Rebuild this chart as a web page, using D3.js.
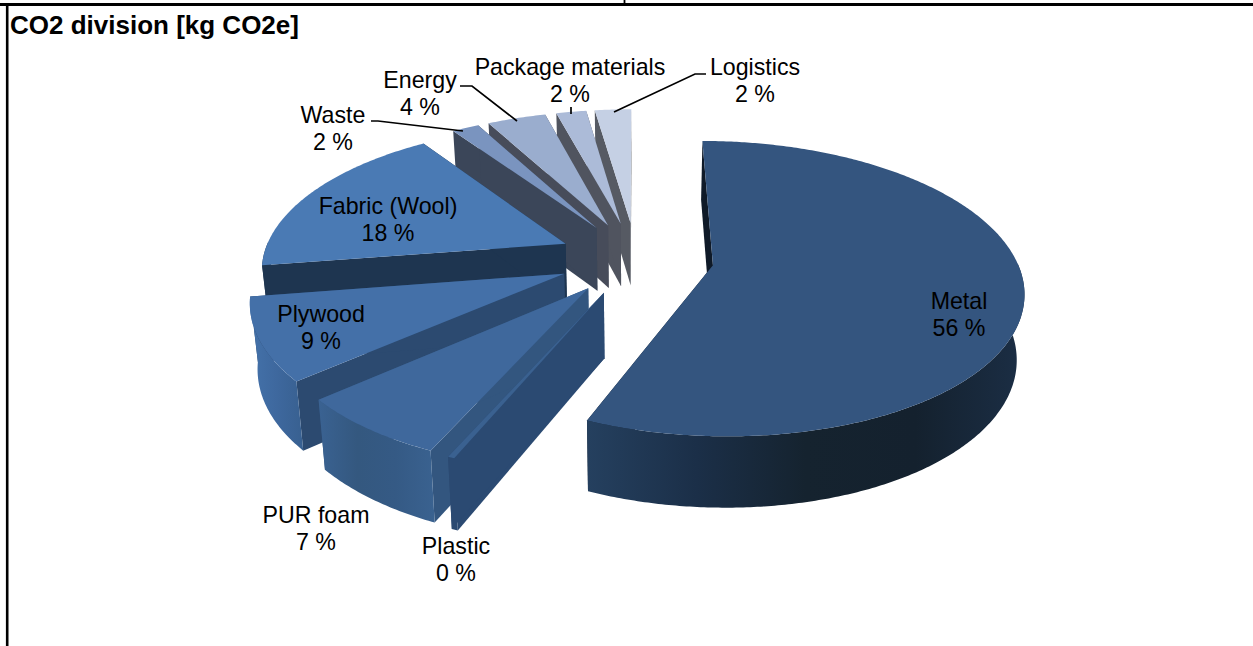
<!DOCTYPE html>
<html>
<head>
<meta charset="utf-8">
<script src="https://d3js.org/d3.v7.min.js"></script>
<style>
html,body{margin:0;padding:0;background:#fff;overflow:hidden}
svg{display:block}
text{font-family:"Liberation Sans",Arial,sans-serif;fill:#000}
</style>
</head>
<body>
<svg id="c" width="1253" height="646"></svg>
<script>
// ---- data ----
const title = "CO2 division [kg CO2e]";
const categories = ["Metal","Plastic","PUR foam","Plywood","Fabric (Wool)","Waste","Energy","Package materials","Logistics"];
const values = [56.3,0.3,6.9,9,17.8,1.7,3.7,1.9,2.3];
const percentLabels = ["56 %","0 %","7 %","9 %","18 %","2 %","4 %","2 %","2 %"];

// ---- style ----
const topColors  = ["#34557f","#3a6190","#3f689c","#4470a8","#4a7ab4","#7a94bf","#9aadce","#acbbd8","#c5d0e4"];
const sideColors = ["#0f1a28","#2b4a72","#33567f","#2c4a70","#1e3550","#3b4659","#474c5a","#50545f","#565a63"];
const wallStops  = [
  ["#25405f","#1b2f48","#15232f","#14212e","#1b2e45"],
  ["#2b4a72","#2b4a72"],
  ["#3a6292","#34587f","#355a85","#3a6290"],
  ["#4472aa","#3e689e","#386090"],
  ["#1e3550","#1e3550"],
  ["#3b4659","#3b4659"],["#474c5a","#474c5a"],["#50545f","#50545f"],["#565a63","#565a63"]
];
const labelLayout = [
  [959,301],[456,546],[316,515],[321,314],[388,206],[333,115],[420,80],[570,67],[755,67]
];
const leaderLines = [
  [[371,121],[378,121],[463,131]],
  [[460,86],[472,86],[517,121]],
  [[571,107],[571,114]],
  [[706,74],[695,74],[614,112]]
];

// ---- projection ----
const W = {cx:636, cy:258, R:303, ky:141.7, persp:0.157, h:64, depthPow:0.6, taper:0.02, explode:0.257};
const sxScale = d3.scaleLinear().domain([0,1]).range([0,W.R]);
const syScale = d3.scaleLinear().domain([0,1]).range([0,W.ky]);
function project(wx,wy,z){
  const s = 1/(1-W.persp*wy);
  return [W.cx + sxScale(wx)*s*(1-W.taper*z), W.cy + syScale(wy)*s + W.h*z*Math.pow(s,W.depthPow)];
}

const svg = d3.select("#c");
const defs = svg.append("defs");
const line = d3.line();
const pie = d3.pie().sort(null).value(d=>d);
const arcs = pie(values);

// back-to-front order
const drawOrder = [8,7,6,5,4,3,2,1,0];

function slicePoint(d,a,r){
  const m=(d.startAngle+d.endAngle)/2;
  return [W.explode*Math.sin(m)+r*Math.sin(a), -W.explode*Math.cos(m)-r*Math.cos(a)];
}
const g = svg.append("g");
drawOrder.forEach(i=>{
  const d=arcs[i];
  const n=Math.max(2,Math.ceil((d.endAngle-d.startAngle)/0.01));
  const angles=d3.range(n+1).map(k=>d.startAngle+(d.endAngle-d.startAngle)*k/n);
  const P=(a,r,z)=>{const q=slicePoint(d,a,r);return project(q[0],q[1],z);};
  const sg=g.append("g").attr("class","slice");
  // radial walls
  [d.startAngle,d.endAngle].forEach(a=>{
    sg.append("path")
      .attr("d",line([P(a,0,0),P(a,1,0),P(a,1,1),P(a,0,1)])+"Z")
      .attr("fill",sideColors[i]);
  });
  // outer wall (near half only)
  const near=angles.filter(a=>Math.cos(a)<0.02);
  if(near.length>1){
    const gid="wall"+i;
    const lg=defs.append("linearGradient").attr("id",gid);
    wallStops[i].forEach((c,k,arr)=>lg.append("stop")
      .attr("offset",k/(arr.length-1)).attr("stop-color",c));
    const pts=near.map(a=>P(a,1,0)).concat(near.slice().reverse().map(a=>P(a,1,1)));
    sg.append("path").attr("d",line(pts)+"Z").attr("fill",`url(#${gid})`);
  }
  // top face
  const topPts=[P(d.startAngle,0,0)].concat(angles.map(a=>P(a,1,0)));
  sg.append("path").attr("d",line(topPts)+"Z").attr("fill",topColors[i]);
});

// leader lines
svg.append("g").selectAll("path").data(leaderLines).join("path")
  .attr("d",d=>line(d)).attr("fill","none").attr("stroke","#000").attr("stroke-width",1.7);

// labels
const fs=23.2;
const lab=svg.append("g").attr("font-size",fs).attr("text-anchor","middle");
categories.forEach((c,i)=>{
  const [x,y]=labelLayout[i];
  lab.append("text").attr("x",x).attr("y",y).attr("dy","0.35em").text(c);
  lab.append("text").attr("x",x).attr("y",y+27).attr("dy","0.35em").text(percentLabels[i]);
});

// frame & title
svg.append("line").attr("x1",0).attr("x2",1253).attr("y1",4.5).attr("y2",4.5).attr("stroke","#000").attr("stroke-width",3);
svg.append("line").attr("x1",7.2).attr("x2",7.2).attr("y1",3).attr("y2",646).attr("stroke","#000").attr("stroke-width",2.6);
svg.append("line").attr("x1",624.5).attr("x2",624.5).attr("y1",0).attr("y2",5).attr("stroke","#000").attr("stroke-width",1.8);
svg.append("text").attr("x",10).attr("y",34).attr("font-size",26).attr("font-weight","bold").text(title);
</script>
</body>
</html>
